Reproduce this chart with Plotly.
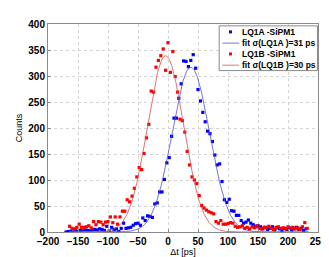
import numpy as np
import plotly.graph_objects as go

# ---- data ----
red_t = list(range(-164, 236, 4))
red_counts = [
    11, 7, 6, 9, 15, 9, 9, 10, 12, 8,            # -164 .. -128
    20, 14, 20, 19, 14, 19, 20, 29, 18, 29,      # -124 .. -88
    15, 29, 40, 40, 62, 58, 69, 84, 106, 124,    # -84 .. -48
    120, 151, 181, 207, 271, 269, 317, 330, 339, 352,  # -44 .. -8
    311, 364, 307, 347, 299, 269, 217, 214, 192, 155,  # -4 .. 32
    129, 106, 100, 93, 70, 51, 46, 42, 39, 37,   # 36 .. 72
    35, 20, 17, 22, 15, 15, 16, 18, 17, 11,      # 76 .. 112
    9, 10, 12, 7, 9, 6, 10, 8, 12, 7,            # 116 .. 152
    6, 9, 8, 11, 7, 5, 9, 10, 7, 8,              # 156 .. 192
    6, 10, 7, 9, 6, 8, 5, 10, 18, 7,             # 196 .. 232
]

blue_t = list(range(-170, 234, 4))
blue_counts = [
    0, 1, 1, 0, 3, 1, 3, 2, 4, 3,                # -170 .. -134
    2, 4, 5, 4, 6, 5, 3, 11, 2, 9,               # -130 .. -94
    5, 6, 1, 7, 17, 7, 8, 9, 13, 16,             # -90 .. -54
    17, 13, 27, 22, 31, 30, 28, 54, 56, 77,      # -50 .. -14
    77, 101, 133, 143, 184, 219, 219, 257, 285, 329,  # -10 .. 26
    328, 318, 330, 341, 315, 274, 252, 230, 212, 194,  # 30 .. 66
    189, 174, 148, 129, 131, 97, 62, 57, 63, 41, # 70 .. 106
    40, 32, 32, 22, 17, 19, 23, 17, 14, 10,      # 110 .. 146
    12, 10, 6, 9, 5, 7, 10, 4, 8, 6,             # 150 .. 186
    3, 7, 5, 8, 4, 6, 9, 5, 7, 3, 6,             # 190 .. 230
]

# Gaussian fit parameters (amplitude, mean, sigma)
fitA_amp, fitA_mean, fitA_sigma = 317, 38, 31
fitB_amp, fitB_mean, fitB_sigma = 339, -4, 30

series_names = ["LQ1A -SiPM1", "fit \u03c3(LQ1A )=31 ps", "LQ1B -SiPM1", "fit \u03c3(LQ1B )=30 ps"]
x_ticks = list(range(-200, 251, 50))
y_ticks = list(range(0, 401, 50))

BLUE, RED = "#0000ff", "#ff0000"
BLUE_FIT, RED_FIT = "rgb(80,80,210)", "rgb(215,80,80)"
FONT = "Liberation Sans, Arial"

xf = np.linspace(-165, 235, 600)
fitA = fitA_amp * np.exp(-(xf - fitA_mean) ** 2 / (2 * fitA_sigma ** 2))
fitB = fitB_amp * np.exp(-(xf - fitB_mean) ** 2 / (2 * fitB_sigma ** 2))

fig = go.Figure()
fig.add_trace(go.Scatter(x=blue_t, y=blue_counts, mode="markers", name=series_names[0],
                         marker=dict(symbol="square", size=3.2, color=BLUE, line=dict(width=0))))
fig.add_trace(go.Scatter(x=xf, y=fitA, mode="lines", name=series_names[1],
                         line=dict(color=BLUE_FIT, width=0.8)))
fig.add_trace(go.Scatter(x=red_t, y=red_counts, mode="markers", name=series_names[2],
                         marker=dict(symbol="square", size=3.2, color=RED, line=dict(width=0))))
fig.add_trace(go.Scatter(x=xf, y=fitB, mode="lines", name=series_names[3],
                         line=dict(color=RED_FIT, width=0.8)))

axis_common = dict(
    showgrid=True, gridcolor="#d4d4d4", griddash="dot", gridwidth=1,
    showline=True, linecolor="#8a8a8a", linewidth=1, mirror=True,
    ticks="inside", ticklen=3, tickcolor="#8a8a8a",
    zeroline=False,
    tickfont=dict(family=FONT, size=10, color="black", weight="bold"),
)

fig.update_xaxes(range=[-200, 250], tickvals=x_ticks, **axis_common,
                 title=dict(text="\u0394t [ps]", font=dict(family=FONT, size=9, color="black"),
                            standoff=2))
fig.update_yaxes(range=[0, 400], tickvals=y_ticks, **axis_common,
                 title=dict(text="Counts", font=dict(family=FONT, size=9, color="black"),
                            standoff=4))

# ---- compact legend (MATLAB style), built from shapes + annotations ----
lx0, lx1, ly0, ly1 = 0.634, 0.998, 0.776, 0.991
row_y = [0.962, 0.908, 0.856, 0.802]
sym_x, line_x0, line_x1, text_x = 0.676, 0.646, 0.708, 0.710
shapes = [dict(type="rect", xref="paper", yref="paper", x0=lx0, x1=lx1, y0=ly0, y1=ly1,
               line=dict(color="#8a8a8a", width=1), fillcolor="white", layer="above")]
annotations = []
kinds = [("marker", BLUE), ("line", BLUE_FIT), ("marker", RED), ("line", RED_FIT)]
for (kind, col), yy, name in zip(kinds, row_y, series_names):
    if kind == "marker":
        shapes.append(dict(type="rect", xref="paper", yref="paper",
                           xsizemode="pixel", ysizemode="pixel", xanchor=sym_x, yanchor=yy,
                           x0=-1.5, x1=1.5, y0=-1.5, y1=1.5,
                           fillcolor=col, line=dict(width=0), layer="above"))
    else:
        shapes.append(dict(type="line", xref="paper", yref="paper",
                           x0=line_x0, x1=line_x1, y0=yy, y1=yy,
                           line=dict(color=col, width=0.8), layer="above"))
    annotations.append(dict(xref="paper", yref="paper", x=text_x, y=yy, xanchor="left", yanchor="middle",
                            text=name, showarrow=False,
                            font=dict(family=FONT, size=8.5, color="black", weight="bold")))

fig.update_layout(
    width=329, height=257,
    margin=dict(l=35, r=10, t=11, b=23),
    paper_bgcolor="white", plot_bgcolor="white",
    showlegend=False,
    shapes=shapes, annotations=annotations,
)

fig.write_html("out.html")
